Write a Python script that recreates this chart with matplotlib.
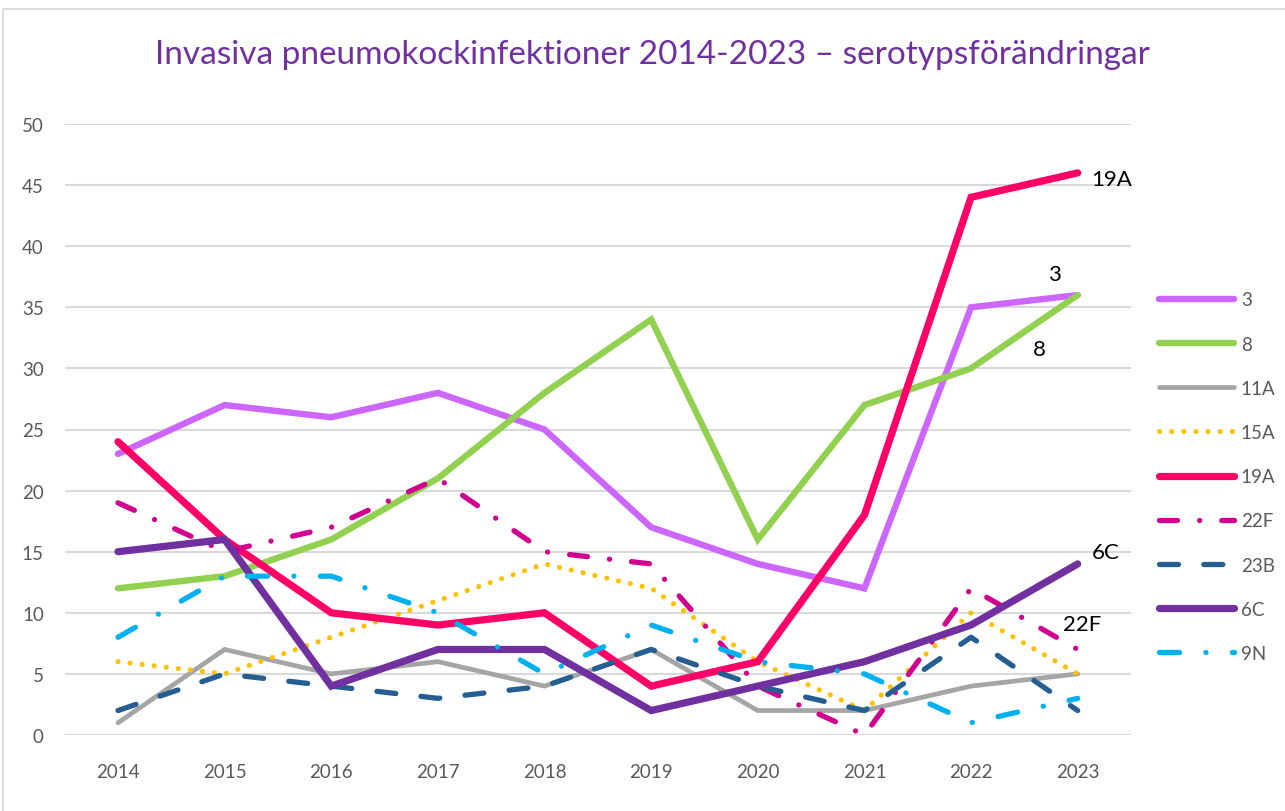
import matplotlib
matplotlib.use("Agg")
import matplotlib.pyplot as plt
from matplotlib.patches import Rectangle

years = [2014, 2015, 2016, 2017, 2018, 2019, 2020, 2021, 2022, 2023]

s3 = [23, 27, 26, 28, 25, 17, 14, 12, 35, 36]
s8 = [12, 13, 16, 21, 28, 34, 16, 27, 30, 36]
s11A = [1, 7, 5, 6, 4, 7, 2, 2, 4, 5]
s15A = [6, 5, 8, 11, 14, 12, 6, 2, 10, 5]
s19A = [24, 16, 10, 9, 10, 4, 6, 18, 44, 46]
s22F = [19, 15, 17, 21, 15, 14, 4, 0, 12, 7]
s23B = [2, 5, 4, 3, 4, 7, 4, 2, 8, 2]
s6C = [15, 16, 4, 7, 7, 2, 4, 6, 9, 14]
s9N = [8, 13, 13, 10, 5, 9, 6, 5, 1, 3]

plt.rcParams['font.family'] = ['Lato', 'DejaVu Sans']

fig = plt.figure(figsize=(12.85, 8.12), dpi=100)
ax = fig.add_axes([64.7 / 1285, 1 - 736 / 812, (1131 - 64.7) / 1285, (736 - 125) / 812])

# chart frame
fig.patches.append(Rectangle((3 / 1285, -0.1), 1.2, 1 - 10 / 812 + 0.1, transform=fig.transFigure,
                             fill=False, edgecolor='#D9D9D9', linewidth=1.2))

series = [
    ("3", s3, '#CC66FF', 4.6, '-'),
    ("8", s8, '#92D050', 4.6, '-'),
    ("11A", s11A, '#A5A5A5', 3.4, '-'),
    ("15A", s15A, '#FFC000', 3.7, (0, (0.01, 2.35))),
    ("19A", s19A, '#FF0066', 5.2, '-'),
    ("22F", s22F, '#D1008E', 3.8, (0, (3.4, 4.2, 0.01, 4.2))),
    ("23B", s23B, '#255E91', 3.8, (0, (3.6, 4.8))),
    ("6C", s6C, '#7030A0', 5.2, '-'),
    ("9N", s9N, '#00B0F0', 3.8, (0, (3.8, 5.0, 0.01, 5.0))),
]

for name, vals, col, lw, ls in series:
    ax.plot(years, vals, color=col, lw=lw, linestyle=ls, label=name,
            solid_capstyle='round', dash_capstyle='round', solid_joinstyle='miter')

ax.set_xlim(2013.5, 2023.5)
ax.set_ylim(0, 50)
ax.set_yticks(range(0, 51, 5))
ax.set_xticks(years)
ax.set_xticklabels([str(y) for y in years])
ax.grid(axis='y', color='#D9D9D9', lw=1.5)
ax.set_axisbelow(True)
for sp in ax.spines.values():
    sp.set_visible(False)
ax.tick_params(length=0, labelsize=13.5, colors='#595959')
ax.tick_params(axis='y', pad=15)
ax.tick_params(axis='x', pad=20)

fig.text(652 / 1285, 1 - 55 / 812, "Invasiva pneumokockinfektioner 2014-2023 – serotypsförändringar",
         ha='center', va='center', fontsize=24, color='#7030A0')

# data labels at 2023 end points
labels = [("19A", s19A, (14, -6), 'left'),
          ("3", s3, (-23, 21), 'center'),
          ("8", s8, (-38, -54), 'center'),
          ("6C", s6C, (14, 12), 'left'),
          ("22F", s22F, (-15, 25), 'left')]
for txt, vals, off, ha in labels:
    ax.annotate(txt, (years[-1], vals[-1]), xytext=off, textcoords='offset pixels',
                ha=ha, va='center', fontsize=16, color='black')

leg = fig.legend(loc='upper left', bbox_to_anchor=(1150 / 1285, 1 - 283 / 812), frameon=False,
                 fontsize=13.5, handlelength=4.0, handletextpad=0.35, labelspacing=1.45, borderpad=0)
for t in leg.get_texts():
    t.set_color('#595959')

fig.savefig("out.png", dpi=100)
